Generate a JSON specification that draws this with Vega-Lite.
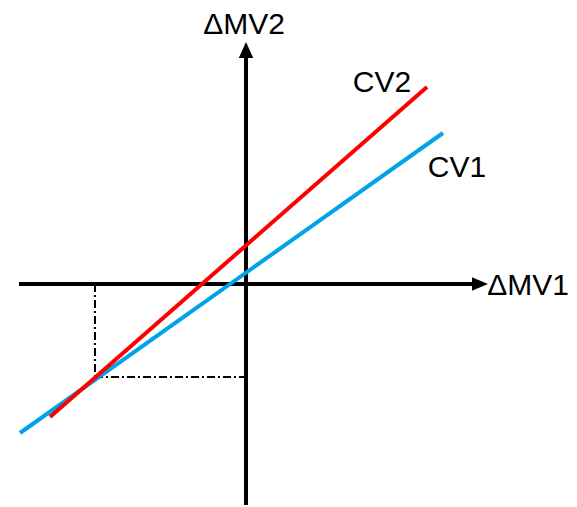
{
  "$schema": "https://vega.github.io/schema/vega-lite/v6.json",
  "width": 577,
  "height": 507,
  "autosize": {"type": "fit", "contains": "padding"},
  "padding": 0,
  "background": "white",
  "config": {"view": {"stroke": null}},
  "datasets": {
    "axes": [
      {"name": "MV1", "x": -227, "y": 0, "x2": 234, "y2": 0},
      {"name": "MV2", "x": 0, "y": -221, "x2": 0, "y2": 234}
    ],
    "arrows": [
      {"name": "MV1", "x": 234, "y": 0, "dir": "right"},
      {"name": "MV2", "x": 0, "y": 234, "dir": "up"}
    ],
    "curves": [
      {"series": "CV1", "x": -226, "y": -149, "x2": 197, "y2": 151},
      {"series": "CV2", "x": -196, "y": -133, "x2": 181, "y2": 197}
    ],
    "guides": [
      {"x": -151, "y": 0, "x2": -151, "y2": -93},
      {"x": -151, "y": -93, "x2": 0, "y2": -93}
    ],
    "labels": [
      {"text": "ΔMV2", "x": -2, "y": 250},
      {"text": "ΔMV1", "x": 282, "y": -11},
      {"text": "CV2", "x": 136, "y": 192},
      {"text": "CV1", "x": 211, "y": 107}
    ]
  },
  "layer": [
    {
      "data": {"name": "guides"},
      "mark": {"type": "rule", "color": "black", "strokeWidth": 2, "strokeDash": [8, 3, 2, 3]},
      "encoding": {
        "x": {"field": "x", "type": "quantitative", "scale": {"domain": [-246, 331], "nice": false, "zero": false}, "axis": null},
        "y": {"field": "y", "type": "quantitative", "scale": {"domain": [-223, 284], "nice": false, "zero": false}, "axis": null},
        "x2": {"field": "x2"},
        "y2": {"field": "y2"}
      }
    },
    {
      "data": {"name": "axes"},
      "mark": {"type": "rule", "color": "black", "strokeWidth": 4},
      "encoding": {
        "x": {"field": "x", "type": "quantitative", "scale": {"domain": [-246, 331], "nice": false, "zero": false}, "axis": null},
        "y": {"field": "y", "type": "quantitative", "scale": {"domain": [-223, 284], "nice": false, "zero": false}, "axis": null},
        "x2": {"field": "x2"},
        "y2": {"field": "y2"}
      }
    },
    {
      "data": {"name": "arrows"},
      "transform": [{"filter": "datum.dir === 'right'"}],
      "mark": {"type": "point", "shape": "M1,0L-1,-0.85L-1,0.85Z", "size": 256, "filled": true, "color": "black", "opacity": 1},
      "encoding": {
        "x": {"field": "x", "type": "quantitative", "scale": {"domain": [-246, 331], "nice": false, "zero": false}, "axis": null},
        "y": {"field": "y", "type": "quantitative", "scale": {"domain": [-223, 284], "nice": false, "zero": false}, "axis": null}
      }
    },
    {
      "data": {"name": "arrows"},
      "transform": [{"filter": "datum.dir === 'up'"}],
      "mark": {"type": "point", "shape": "M0,-1L0.9,1L-0.9,1Z", "size": 256, "filled": true, "color": "black", "opacity": 1},
      "encoding": {
        "x": {"field": "x", "type": "quantitative", "scale": {"domain": [-246, 331], "nice": false, "zero": false}, "axis": null},
        "y": {"field": "y", "type": "quantitative", "scale": {"domain": [-223, 284], "nice": false, "zero": false}, "axis": null}
      }
    },
    {
      "data": {"name": "curves"},
      "mark": {"type": "rule", "strokeWidth": 4},
      "encoding": {
        "x": {"field": "x", "type": "quantitative", "scale": {"domain": [-246, 331], "nice": false, "zero": false}, "axis": null},
        "y": {"field": "y", "type": "quantitative", "scale": {"domain": [-223, 284], "nice": false, "zero": false}, "axis": null},
        "x2": {"field": "x2"},
        "y2": {"field": "y2"},
        "color": {"field": "series", "type": "nominal", "scale": {"domain": ["CV1", "CV2"], "range": ["#00A2E8", "#FF0000"]}, "legend": null}
      }
    },
    {
      "data": {"name": "labels"},
      "mark": {"type": "text", "font": "Liberation Sans", "fontSize": 30, "color": "black", "align": "center", "baseline": "alphabetic"},
      "encoding": {
        "x": {"field": "x", "type": "quantitative", "scale": {"domain": [-246, 331], "nice": false, "zero": false}, "axis": null},
        "y": {"field": "y", "type": "quantitative", "scale": {"domain": [-223, 284], "nice": false, "zero": false}, "axis": null},
        "text": {"field": "text"}
      }
    }
  ]
}
